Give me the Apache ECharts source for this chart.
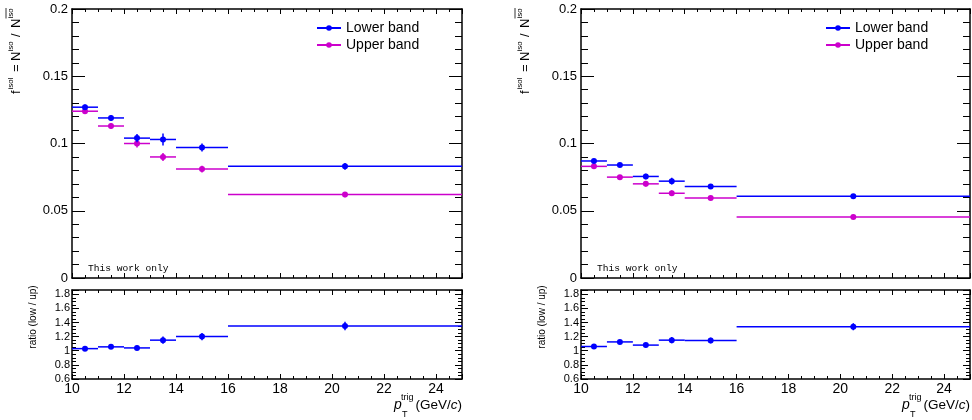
<!DOCTYPE html>
<html><head><meta charset="utf-8">
<script src="https://cdn.jsdelivr.net/npm/echarts@6/dist/echarts.min.js"></script>
<style>html,body{margin:0;padding:0;background:#fff}#c{width:972px;height:420px}</style>
</head><body><div id="c"></div>
<script>
// ---- data ----
const binLow    = [10, 11, 12, 13, 14, 16];
const binHigh   = [11, 12, 13, 14, 16, 25];
const binCenter = [10.5, 11.5, 12.5, 13.5, 15, 20.5];

const leftLower     = [0.127, 0.119, 0.104, 0.103, 0.097, 0.083];
const leftLowerErr  = [0.002, 0.002, 0.003, 0.0045, 0.003, 0.0025];
const leftUpper     = [0.124, 0.113, 0.100, 0.090, 0.081, 0.062];
const leftUpperErr  = [0.002, 0.002, 0.003, 0.003, 0.0025, 0.002];
const leftRatio     = [1.03, 1.055, 1.04, 1.15, 1.20, 1.35];
const leftRatioErr  = [0.02, 0.02, 0.03, 0.05, 0.05, 0.06];

const rightLower    = [0.087, 0.084, 0.0755, 0.072, 0.068, 0.0607];
const rightLowerErr = [0.0015, 0.0015, 0.002, 0.0025, 0.0015, 0.0015];
const rightUpper    = [0.083, 0.075, 0.070, 0.063, 0.0595, 0.0454];
const rightUpperErr = [0.0015, 0.0015, 0.002, 0.002, 0.0015, 0.0012];
const rightRatio    = [1.06, 1.125, 1.08, 1.15, 1.145, 1.34];
const rightRatioErr = [0.02, 0.02, 0.03, 0.045, 0.04, 0.05];

const xRange = [10, 25], xStep = 2;
const topYRange = [0, 0.2], topYStep = 0.05;
const ratioYRange = [0.6, 1.86], ratioYStep = 0.2;
const legendNames = ['Lower band', 'Upper band'];
const annotation = 'This work only';

// ---- styles ----
const BLUE = '#0000ff', MAG = '#cc00cc';
const FONT = "'Liberation Sans', Arial, Helvetica, sans-serif";

function rows(vals, errs) {
  return vals.map((v, i) => [binLow[i], binHigh[i], binCenter[i], v, errs[i]]);
}
function renderErr(color) {
  return function (params, api) {
    const lo = api.value(0), hi = api.value(1), xc = api.value(2), v = api.value(3), e = api.value(4);
    const pL = api.coord([lo, v]), pH = api.coord([hi, v]), pC = api.coord([xc, v]);
    const pT = api.coord([xc, v + e]), pB = api.coord([xc, v - e]);
    return { type: 'group', children: [
      { type: 'line', shape: { x1: pL[0], y1: pL[1], x2: pH[0], y2: pH[1] }, style: { stroke: color, lineWidth: 1.5 } },
      { type: 'line', shape: { x1: pT[0], y1: pT[1], x2: pB[0], y2: pB[1] }, style: { stroke: color, lineWidth: 1.5 } },
      { type: 'circle', shape: { cx: pC[0], cy: pC[1], r: 3 }, style: { fill: color } }
    ]};
  };
}
function errSeries(xi, yi, data, color) {
  return { type: 'custom', xAxisIndex: xi, yAxisIndex: yi, data: data,
    encode: { x: [0, 1, 2], y: [3] }, renderItem: renderErr(color), z: 5, clip: true };
}
function xAx(g, pos, labels, major, minor) {
  return { type: 'value', gridIndex: g, position: pos, min: xRange[0], max: xRange[1], interval: xStep,
    axisLine: { show: true, onZero: false, lineStyle: { color: '#000', width: 1.5 } },
    axisTick: { show: true, inside: true, length: major, lineStyle: { color: '#000', width: 1 } },
    minorTick: { show: true, splitNumber: 4, length: minor, lineStyle: { color: '#000', width: 1 } },
    axisLabel: { show: labels, showMaxLabel: false, color: '#000', fontSize: 14, fontFamily: FONT, margin: 3 },
    splitLine: { show: false }, minorSplitLine: { show: false } };
}
function yAx(g, pos, labels, range, step, split, major, minor, fs, margin) {
  return { type: 'value', gridIndex: g, position: pos, min: range[0], max: range[1], interval: step,
    axisLine: { show: true, onZero: false, lineStyle: { color: '#000', width: 1.5 } },
    axisTick: { show: true, inside: true, length: major, lineStyle: { color: '#000', width: 1 } },
    minorTick: { show: true, splitNumber: split, length: minor, lineStyle: { color: '#000', width: 1 } },
    axisLabel: { show: labels, showMaxLabel: range[1] === topYRange[1] ? true : false, color: '#000', fontSize: fs, fontFamily: FONT, margin: margin,
      formatter: v => String(+v.toFixed(3)) },
    splitLine: { show: false }, minorSplitLine: { show: false } };
}

function yTitle(x) {
  const t = (s, px, py, size, italic) => ({ type: 'text', x: px, y: py,
    style: { text: s, font: (italic ? 'italic ' : '') + size + 'px ' + FONT, fill: '#000', align: 'left', verticalAlign: 'middle' } });
  return { type: 'group', x: x, y: 94, rotation: Math.PI / 2, children: [
    t('f', 0, 0, 13), t('isol', 4.5, -5, 8),
    t('=', 22, 0, 13),
    t('N', 33, 0, 13), t('iso', 42.5, -5, 8),
    t('/', 57, 0, 13),
    t('N', 66, 0, 13), t('iso', 75.5, -5, 8),
    { type: 'line', shape: { x1: 75.5, y1: -10, x2: 86, y2: -10 }, style: { stroke: '#000', lineWidth: 0.8 } }
  ]};
}
function ratioTitle(x) {
  return { type: 'text', x: x, y: 317, rotation: Math.PI / 2,
    style: { text: 'ratio (low / up)', font: '10px ' + FONT, fill: '#000', align: 'center', verticalAlign: 'middle' } };
}
function xTitle(right) {
  return { type: 'group', children: [
    { type: 'text', x: right - 68, y: 405, style: { text: 'p', font: 'italic 14px ' + FONT, fill: '#000', align: 'left', verticalAlign: 'middle' } },
    { type: 'text', x: right - 61, y: 398, style: { text: 'trig', font: '9px ' + FONT, fill: '#000', align: 'left', verticalAlign: 'middle' } },
    { type: 'text', x: right - 60, y: 415, style: { text: 'T', font: '9px ' + FONT, fill: '#000', align: 'left', verticalAlign: 'middle' } },
    { type: 'text', x: right, y: 405, style: { text: '{n|(GeV/}{i|c}{n|)}', align: 'right', verticalAlign: 'middle',
      rich: { n: { font: '13.5px ' + FONT, fill: '#000' }, i: { font: 'italic 13.5px ' + FONT, fill: '#000' } } } }
  ]};
}
function note(x) {
  return { type: 'text', x: x, y: 268, style: { text: annotation, font: "9.6px 'Liberation Mono', 'Courier New', monospace", fill: '#000', align: 'left', verticalAlign: 'middle' } };
}
function legend(left) {
  return { left: left, top: 16, orient: 'vertical', itemWidth: 24, itemHeight: 7, itemGap: 3,
    selectedMode: false, data: legendNames, textStyle: { fontSize: 14, fontFamily: FONT, color: '#000' } };
}

const chart = echarts.init(document.getElementById('c'), null, { renderer: 'canvas' });
chart.setOption({
  animation: false,
  backgroundColor: '#fff',
  grid: [
    { left: 72, top: 9, width: 390, height: 269 },
    { left: 72, top: 290, width: 390, height: 89 },
    { left: 581, top: 9, width: 389, height: 269 },
    { left: 581, top: 290, width: 389, height: 89 }
  ],
  xAxis: [
    xAx(0, 'bottom', false, 5, 3), xAx(0, 'top', false, 5, 3),
    xAx(1, 'bottom', true, 5, 3), xAx(1, 'top', false, 5, 3),
    xAx(2, 'bottom', false, 5, 3), xAx(2, 'top', false, 5, 3),
    xAx(3, 'bottom', true, 5, 3), xAx(3, 'top', false, 5, 3)
  ],
  yAxis: [
    yAx(0, 'left', true, topYRange, topYStep, 5, 13, 7, 13, 4), yAx(0, 'right', false, topYRange, topYStep, 5, 13, 7, 13, 4),
    yAx(1, 'left', true, ratioYRange, ratioYStep, 4, 7, 4, 11, 2), yAx(1, 'right', false, ratioYRange, ratioYStep, 4, 7, 4, 11, 2),
    yAx(2, 'left', true, topYRange, topYStep, 5, 13, 7, 13, 4), yAx(2, 'right', false, topYRange, topYStep, 5, 13, 7, 13, 4),
    yAx(3, 'left', true, ratioYRange, ratioYStep, 4, 7, 4, 11, 2), yAx(3, 'right', false, ratioYRange, ratioYStep, 4, 7, 4, 11, 2)
  ],
  legend: [legend(311), legend(820)],
  series: [
    { type: 'line', name: legendNames[0], data: [], xAxisIndex: 0, yAxisIndex: 0, symbol: 'circle', symbolSize: 5,
      itemStyle: { color: BLUE }, lineStyle: { color: BLUE, width: 1 } },
    { type: 'line', name: legendNames[1], data: [], xAxisIndex: 0, yAxisIndex: 0, symbol: 'circle', symbolSize: 5,
      itemStyle: { color: MAG }, lineStyle: { color: MAG, width: 1 } },
    errSeries(0, 0, rows(leftUpper, leftUpperErr), MAG),
    errSeries(0, 0, rows(leftLower, leftLowerErr), BLUE),
    errSeries(2, 2, rows(leftRatio, leftRatioErr), BLUE),
    errSeries(4, 4, rows(rightUpper, rightUpperErr), MAG),
    errSeries(4, 4, rows(rightLower, rightLowerErr), BLUE),
    errSeries(6, 6, rows(rightRatio, rightRatioErr), BLUE)
  ],
  graphic: [
    yTitle(16), yTitle(525), ratioTitle(33), ratioTitle(542),
    xTitle(462), xTitle(970), note(88), note(597)
  ]
});
</script></body></html>
